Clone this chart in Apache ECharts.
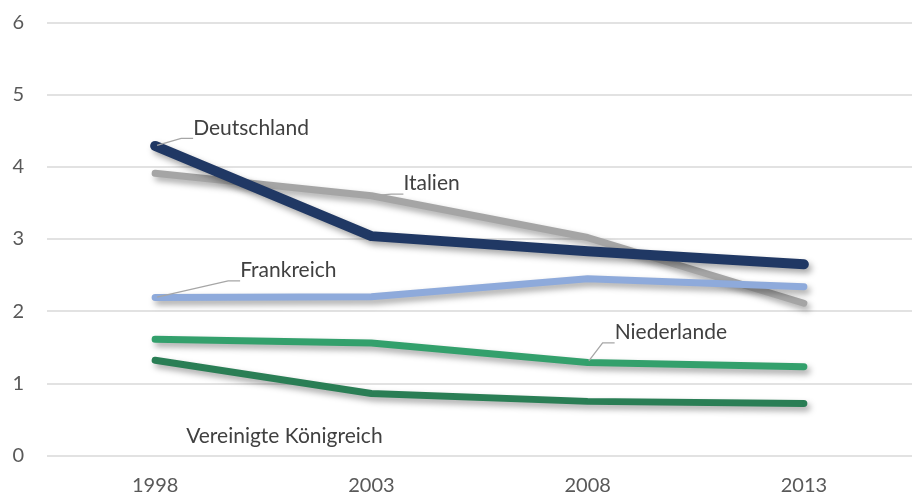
<!DOCTYPE html>
<html>
<head>
<meta charset="utf-8">
<script src="https://cdn.jsdelivr.net/npm/echarts@6/dist/echarts.min.js"></script>
<style>
html,body{margin:0;padding:0;background:#fff;}
#chart{width:912px;height:496px;}
</style>
</head>
<body>
<div id="chart"></div>
<script>
var categories = ['1998', '2003', '2008', '2013'];
var yTicks = [0, 1, 2, 3, 4, 5, 6];

var italien = [3.91, 3.60, 3.02, 2.11];
var deutschland = [4.29, 3.04, 2.83, 2.65];
var frankreich = [2.19, 2.20, 2.45, 2.34];
var niederlande = [1.61, 1.56, 1.29, 1.23];
var vereinigteKoenigreich = [1.32, 0.86, 0.75, 0.72];

var seriesNames = ['Italien', 'Deutschland', 'Frankreich', 'Niederlande', 'Vereinigte Königreich'];
var seriesValues = [italien, deutschland, frankreich, niederlande, vereinigteKoenigreich];

// styling / label placement (not data)
var styles = {
  'Italien':               { color: '#a5a5a5', width: 7,  label: { idx: 1, ox: 20, oy: -12, pad: 10, line: true } },
  'Deutschland':           { color: '#203864', width: 10, label: { idx: 0, ox: 26, oy: -18, pad: 10, line: true } },
  'Frankreich':            { color: '#8eaadb', width: 7,  label: { idx: 0, ox: 63, oy: -27, pad: 20, line: true } },
  'Niederlande':           { color: '#33a06c', width: 7,  label: { idx: 2, ox: 14, oy: -30, pad: 11, line: true } },
  'Vereinigte Königreich': { color: '#2a7e55', width: 7,  label: { idx: 0, ox: 19, oy: 76,  pad: 10, line: false } }
};

var FONT = 'Lato';

var series = seriesNames.map(function (name, si) {
  var st = styles[name];
  var data = seriesValues[si].map(function (v, i) {
    if (i !== st.label.idx) return v;
    return {
      value: v,
      label: {
        show: true,
        position: 'right',
        distance: 0,
        offset: [st.label.ox, st.label.oy],
        padding: [0, 0, 0, st.label.pad],
        formatter: name,
        color: '#404040',
        fontSize: 21,
        fontFamily: FONT
      },
      labelLine: {
        show: st.label.line,
        length2: 12,
        lineStyle: { color: '#a6a6a6', width: 1.3 }
      }
    };
  });
  return {
    name: name,
    type: 'line',
    data: data,
    symbol: 'circle',
    symbolSize: 4,
    showSymbol: true,
    itemStyle: { color: st.color },
    lineStyle: {
      color: st.color,
      width: st.width,
      cap: 'round',
      join: 'round',
      shadowColor: 'rgba(0,0,0,0.35)',
      shadowBlur: 6,
      shadowOffsetX: 3,
      shadowOffsetY: 4
    },
    emphasis: { disabled: true },
    silent: true,
    z: 2 + si
  };
});

var chart = echarts.init(document.getElementById('chart'), null, { renderer: 'canvas' });
chart.setOption({
  animation: false,
  backgroundColor: '#ffffff',
  grid: { left: 47, top: 22.5, width: 880, height: 433, containLabel: false },
  xAxis: {
    type: 'category',
    data: categories,
    boundaryGap: true,
    axisLine: { show: false },
    axisTick: { show: false },
    axisLabel: { color: '#595959', fontSize: 20, fontFamily: FONT, margin: 20 }
  },
  yAxis: {
    type: 'value',
    min: yTicks[0],
    max: yTicks[yTicks.length - 1],
    interval: 1,
    axisLine: { show: false },
    axisTick: { show: false },
    axisLabel: { color: '#595959', fontSize: 20, fontFamily: FONT, margin: 23 },
    splitLine: { lineStyle: { color: '#d9d9d9', width: 1.5 } }
  },
  series: series
});
</script>
</body>
</html>
